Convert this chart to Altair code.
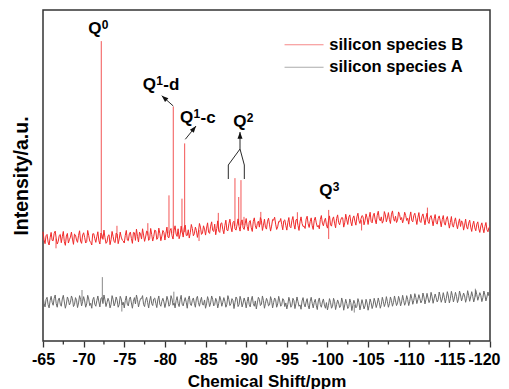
import altair as alt
import pandas as pd
import numpy as np

FONT = "Liberation Sans"

# sampling grids of the spectra (ppm): main points every 0.25 ppm, plus the points in between
ppm_grid = np.round(np.linspace(-65, -120, 221), 3)
ppm_mid = np.round(np.linspace(-65.125, -119.875, 220), 3)

red_baseline = [
    33.0, 29.4, 32.2, 29.0, 32.8, 30.3, 33.2, 29.3, 31.9, 29.7, 33.1, 28.9, 32.5, 30.6, 32.9, 29.2, 32.0, 29.8, 33.3, 29.5,
    32.7, 29.6, 33.4, 30.2, 29.0, 32.4, 29.8, 33.0, 29.3, 32.1, 33.5, 29.5, 31.8, 29.1, 33.1, 30.0, 32.6, 29.4, 32.9, 30.5,
    29.6, 33.4, 30.3, 32.9, 29.5, 32.7, 33.8, 29.9, 32.3, 33.9, 30.1, 33.2, 30.4, 34.0, 30.2, 33.5, 30.7, 34.1, 30.3, 33.4,
    30.5, 34.4, 31.2, 34.0, 30.8, 34.8, 31.6, 30.9, 34.7, 31.4, 35.0, 31.9, 31.1, 35.2, 31.8, 34.4, 31.3, 35.5, 32.2, 34.8,
    32.0, 35.7, 32.5, 36.0, 33.1, 32.1, 36.3, 32.8, 35.7, 32.4, 36.5, 33.3, 36.8, 33.0, 36.2, 33.5, 36.9, 33.2, 36.6, 33.7,
    37.0, 33.3, 36.4, 33.1, 37.2, 33.9, 36.2, 37.3, 33.4, 36.8, 33.8, 37.1, 33.2, 36.7, 37.4, 33.7, 36.1, 37.0, 33.6, 36.6,
    33.5, 37.3, 34.2, 37.6, 33.8, 36.8, 33.4, 37.5, 34.6, 34.0, 37.7, 34.3, 37.2, 33.7, 37.4, 34.5, 33.9, 37.9, 34.8, 37.1,
    34.1, 37.8, 34.7, 37.5, 34.2, 38.1, 35.1, 37.3, 34.4, 38.3, 35.2, 38.1, 34.8, 37.8, 35.0, 38.6, 35.5, 37.9, 35.1, 38.4,
    35.2, 38.9, 35.7, 38.6, 35.4, 39.2, 36.3, 35.6, 39.1, 36.0, 38.8, 35.5, 39.3, 36.2, 35.8, 39.0, 36.6, 35.7, 38.9, 36.4,
    35.3, 39.0, 36.0, 38.6, 35.2, 38.8, 35.8, 38.4, 35.1, 38.6, 35.5, 37.9, 34.8, 38.2, 35.3, 37.8, 34.5, 37.9, 35.0, 37.6,
    34.1, 37.6, 34.4, 37.2, 33.9, 36.9, 36.3, 33.5, 36.8, 33.8, 36.5, 33.1, 36.2, 33.3, 36.0, 32.8, 35.7, 32.7, 35.8, 33.0,
    34.6,
]
red_mid = [
    30.6, 31.8, 29.9, 31.2, 30.4, 32.5, 31.0, 30.1, 32.2, 31.5, 30.0, 31.7, 29.6, 31.4, 30.8, 32.3, 30.5, 31.9, 30.2, 32.0,
    31.3, 30.0, 31.9, 29.8, 32.4, 30.9, 31.5, 30.3, 32.6, 30.7, 31.2, 29.9, 32.1, 30.6, 31.6, 29.7, 32.3, 30.8, 31.4, 30.2,
    31.9, 30.5, 32.4, 31.0, 32.8, 30.4, 31.6, 32.9, 30.8, 32.0, 31.4, 33.0, 30.9, 32.2, 31.5, 33.3, 31.1, 32.5, 31.7, 32.8,
    32.6, 31.4, 33.3, 31.8, 33.5, 32.3, 33.9, 32.1, 33.0, 34.2, 31.9, 33.6, 32.7, 34.0, 32.4, 33.4, 32.9, 34.4, 32.6, 33.8,
    34.1, 32.9, 34.7, 33.4, 35.3, 34.0, 33.2, 35.5, 33.7, 34.9, 33.5, 35.4, 34.4, 35.8, 33.9, 35.1, 34.6, 36.0, 34.2, 35.4,
    34.6, 35.9, 34.2, 36.1, 34.8, 35.5, 34.4, 36.4, 35.0, 34.3, 36.2, 35.1, 34.7, 36.5, 35.3, 34.5, 36.0, 35.2, 36.3, 34.9,
    35.8, 34.6, 36.4, 35.2, 36.6, 34.9, 36.0, 35.5, 34.7, 36.8, 35.4, 36.1, 34.8, 36.5, 35.7, 34.9, 36.7, 35.6, 36.3, 35.1,
    36.3, 35.1, 36.8, 35.6, 37.0, 35.8, 36.5, 37.2, 35.7, 36.6, 37.4, 36.0, 37.1, 36.2, 37.5, 36.4, 36.9, 37.6, 36.3, 37.2,
    37.3, 36.1, 37.8, 36.6, 38.0, 36.9, 37.5, 36.3, 38.1, 37.2, 36.7, 38.3, 37.0, 37.7, 36.5, 38.2, 37.3, 36.8, 37.9, 37.1,
    37.5, 36.4, 37.9, 36.9, 37.3, 36.2, 37.6, 36.8, 37.2, 36.1, 37.4, 36.5, 36.9, 35.8, 37.0, 36.3, 36.7, 35.6, 36.8, 35.9,
    35.8, 34.9, 36.1, 35.3, 35.6, 34.6, 35.8, 35.0, 34.5, 35.6, 34.4, 35.1, 34.2, 35.3, 33.9, 34.8, 34.0, 34.6, 33.6, 34.3,
]

gray_baseline = [
    13.6, 10.3, 13.2, 10.0, 13.5, 10.8, 13.9, 10.2, 13.0, 10.5, 13.8, 9.9, 13.3, 10.9, 13.6, 10.4, 13.1, 10.1, 13.7, 10.6,
    13.4, 10.2, 13.8, 10.7, 9.9, 13.2, 10.5, 13.6, 10.3, 13.1, 13.9, 10.4, 12.9, 10.0, 13.7, 10.6, 13.3, 10.2, 13.5, 10.9,
    10.0, 13.6, 10.6, 13.3, 9.9, 13.1, 13.9, 10.3, 12.8, 13.7, 10.4, 13.2, 10.0, 13.5, 10.7, 13.0, 10.1, 13.6, 10.5, 12.9,
    10.1, 13.5, 10.5, 13.7, 10.8, 10.0, 13.4, 10.4, 13.8, 10.6, 13.1, 9.9, 13.6, 10.7, 13.0, 10.2, 13.5, 10.5, 13.2, 10.9,
    9.9, 13.4, 10.4, 13.6, 10.6, 12.9, 10.0, 13.5, 10.5, 13.1, 10.2, 13.7, 10.7, 12.8, 9.8, 13.3, 10.4, 13.5, 10.3, 13.0,
    10.0, 13.3, 10.3, 13.5, 10.5, 9.7, 13.2, 10.7, 13.6, 9.9, 12.9, 10.6, 13.4, 10.0, 13.0, 10.2, 13.5, 10.5, 12.8, 10.4,
    9.7, 13.2, 10.2, 12.9, 9.8, 13.3, 10.5, 9.6, 13.1, 10.3, 12.8, 9.7, 13.2, 10.0, 12.6, 9.5, 13.0, 10.2, 12.7, 9.9,
    9.4, 12.8, 9.9, 12.9, 9.5, 12.4, 10.1, 13.0, 9.3, 12.6, 9.8, 12.7, 9.2, 12.3, 10.0, 12.8, 9.4, 12.5, 9.7, 12.6,
    9.3, 12.7, 9.8, 12.9, 10.1, 13.0, 9.9, 13.2, 10.4, 13.4, 10.2, 13.3, 10.5, 13.6, 10.7, 13.5, 10.6, 13.8, 10.8, 13.7,
    10.7, 14.1, 11.1, 14.3, 11.3, 14.0, 11.5, 14.5, 11.2, 14.4, 11.6, 14.7, 11.4, 14.2, 11.8, 14.8, 11.7, 14.6, 11.5, 14.9,
    11.5, 15.0, 11.8, 14.7, 11.6, 15.1, 12.1, 14.5, 11.7, 15.2, 12.0, 14.9, 11.8, 15.3, 12.3, 14.6, 11.9, 15.1, 12.1, 14.8,
    13.3,
]
gray_mid = [
    11.4, 12.6, 11.0, 12.2, 11.7, 12.9, 11.3, 12.4, 11.1, 12.7, 11.8, 11.2, 12.5, 11.6, 12.8, 11.0, 12.3, 11.5, 12.6, 11.9,
    12.1, 11.2, 12.7, 11.4, 12.5, 11.1, 12.2, 11.8, 12.9, 11.3, 12.4, 11.6, 12.0, 11.1, 12.6, 11.5, 12.3, 11.0, 12.7, 11.7,
    12.2, 11.1, 12.6, 11.5, 12.0, 11.2, 12.5, 11.7, 12.8, 11.0, 12.3, 11.6, 12.1, 11.3, 12.7, 11.4, 12.4, 11.1, 12.0, 11.8,
    11.5, 12.4, 11.0, 12.7, 11.6, 12.2, 11.3, 12.5, 11.1, 12.0, 11.7, 12.6, 11.2, 12.3, 11.4, 12.8, 11.6, 12.1, 11.0, 12.4,
    11.2, 12.3, 11.5, 12.6, 11.0, 12.1, 11.4, 12.4, 11.7, 12.0, 11.1, 12.5, 11.3, 12.2, 11.6, 12.7, 11.0, 12.3, 11.5, 11.9,
    11.9, 11.0, 12.4, 11.3, 12.1, 11.5, 12.6, 11.1, 12.2, 11.4, 12.0, 10.9, 12.3, 11.6, 12.5, 11.2, 12.1, 11.0, 12.4, 11.5,
    11.1, 12.0, 10.8, 12.2, 11.3, 11.9, 10.9, 12.1, 11.2, 11.8, 10.7, 12.0, 11.4, 11.7, 10.8, 12.1, 11.0, 11.8, 10.9, 11.6,
    10.8, 11.7, 10.5, 11.9, 11.0, 11.5, 10.6, 11.8, 10.9, 11.3, 10.4, 11.6, 10.8, 11.4, 10.5, 11.7, 10.9, 11.2, 10.6, 11.5,
    10.7, 11.6, 10.9, 11.8, 11.2, 11.7, 11.0, 12.0, 11.4, 11.9, 11.3, 12.2, 11.6, 12.1, 11.5, 12.4, 11.8, 12.3, 11.7, 12.5,
    12.0, 12.9, 12.3, 13.1, 12.5, 12.8, 12.2, 13.3, 12.6, 13.0, 12.4, 13.4, 12.8, 13.1, 12.5, 13.5, 12.7, 13.2, 12.9, 13.6,
    12.8, 13.7, 13.0, 13.5, 12.7, 13.9, 13.2, 13.6, 12.9, 13.8, 13.3, 13.5, 13.0, 14.0, 13.4, 13.7, 13.1, 13.9, 13.3, 13.6,
]

# sharp resonances / spikes (ppm, top intensity, local baseline)
red_spike_ppm = [-72.17, -80.5, -81.03, -82.1, -82.43, -77.9, -86.57, -88.62, -89.08, -89.36, -89.73, -100.15,
                 -66.6, -74.1, -84.2, -91.8, -96.3, -104.2, -112.3]
red_spike_top = [90.6, 44.0, 70.8, 43.0, 59.7, 35.6, 38.7, 49.2, 43.5, 48.6, 37.5, 39.6,
                 28.0, 34.8, 30.2, 39.0, 38.9, 33.4, 40.3]
red_spike_base = [31.0, 32.5, 32.6, 32.8, 32.9, 31.9, 34.0, 34.8, 35.0, 35.0, 35.0, 30.8,
                  31.0, 31.2, 33.5, 35.2, 35.5, 36.5, 36.8]

gray_spike_ppm = [-72.3, -69.8, -81.1, -74.7, -103.3, -118.2]
gray_spike_top = [19.3, 15.4, 14.9, 8.9, 8.6, 15.8]
gray_spike_base = [11.9, 11.9, 11.8, 11.8, 10.9, 13.4]

series_names = ["silicon species B", "silicon species A"]
series_colors = ["#f02a2a", "#6a6a6a"]

x_ticks = [-65, -70, -75, -80, -85, -90, -95, -100, -105, -110, -115, -120]
x_minor = [-67.5, -72.5, -77.5, -82.5, -87.5, -92.5, -97.5, -102.5, -107.5, -112.5, -117.5]

# peak labels
ann_main = ["Q", "Q", "Q", "Q", "Q"]
ann_sup = ["0", "1", "1", "2", "3"]
ann_suffix = ["", "-d", "-c", "", ""]
ann_ppm = [-70.57, -77.27, -81.86, -88.42, -99.0]
ann_val = [92.75, 75.83, 65.86, 64.65, 43.8]

# arrows (tail -> tip)
arrow_tail_ppm = [-81.03, -82.51, -89.24]
arrow_tail_val = [71.0, 60.94, 58.0]
arrow_tip_ppm = [-79.61, -83.83, -89.24]
arrow_tip_val = [74.1, 64.95, 63.14]
arrow_angle = [312, 39, 0]

# bracket joining the Q2 lines
bracket_ppm = [-87.80, -87.80, -89.24, -89.77, -89.77]
bracket_val = [48.94, 53.17, 58.0, 53.17, 48.94]

df_lines = pd.DataFrame({
    "ppm": np.concatenate([ppm_grid, ppm_mid, ppm_grid, ppm_mid]),
    "intensity": red_baseline + red_mid + gray_baseline + gray_mid,
    "series": [series_names[0]] * (len(red_baseline) + len(red_mid))
    + [series_names[1]] * (len(gray_baseline) + len(gray_mid)),
})
df_red_spikes = pd.DataFrame({"ppm": red_spike_ppm, "top": red_spike_top, "base": red_spike_base})
df_gray_spikes = pd.DataFrame({"ppm": gray_spike_ppm, "top": gray_spike_top, "base": gray_spike_base})
df_ann = pd.DataFrame({"main": ann_main, "sup": ann_sup, "suffix": ann_suffix, "ppm": ann_ppm, "val": ann_val})
df_arrow = pd.DataFrame({"x1": arrow_tail_ppm, "y1": arrow_tail_val, "x2": arrow_tip_ppm,
                         "y2": arrow_tip_val, "angle": arrow_angle})
df_bracket = pd.DataFrame({"ppm": bracket_ppm, "val": bracket_val, "order": list(range(len(bracket_ppm)))})
df_minor = pd.DataFrame({"ppm": x_minor})

x_scale = alt.Scale(domain=[-120, -65], reverse=True, nice=False, zero=False)
y_scale = alt.Scale(domain=[0, 100], nice=False, zero=False)

x_axis = alt.Axis(
    values=x_ticks, title="Chemical Shift/ppm", labelExpr="'-' + abs(datum.value)",
    labelFont=FONT, labelFontWeight="bold", labelColor="black",
    labelFontSize=16, titleFontSize=17, tickSize=6, tickWidth=1.3, labelPadding=4,
    titlePadding=6, labelFlush=False, labelOverlap=False,
    labelOffset={"condition": {"test": "datum.value == -120", "value": -6}, "value": 0},
)
y_axis = alt.Axis(title="Intensity/a.u.", labels=False, ticks=False, titleFontSize=19.5, titlePadding=12)

lines = alt.Chart(df_lines).mark_line(strokeWidth=1.0).encode(
    x=alt.X("ppm:Q", scale=x_scale, axis=x_axis),
    y=alt.Y("intensity:Q", scale=y_scale, axis=y_axis),
    color=alt.Color(
        "series:N",
        scale=alt.Scale(domain=series_names, range=series_colors),
        legend=alt.Legend(
            title=None, orient="none", legendX=252.8, legendY=26.5, padding=0,
            symbolType="M-2.6,0L2.6,0", symbolSize=225, symbolStrokeWidth=1, symbolOpacity=0.55,
            labelFont=FONT, labelFontSize=16.5, labelFontWeight="bold", labelColor="black",
            labelOffset=17, rowPadding=5.5,
        ),
    ),
)

red_spikes = alt.Chart(df_red_spikes).mark_rule(strokeWidth=0.8, color=series_colors[0]).encode(
    x="ppm:Q", y="top:Q", y2="base:Q")
gray_spikes = alt.Chart(df_gray_spikes).mark_rule(strokeWidth=0.8, color=series_colors[1]).encode(
    x="ppm:Q", y="top:Q", y2="base:Q")

txt_common = dict(font=FONT, fontWeight="bold", color="black", align="left", baseline="alphabetic")
ann_q = alt.Chart(df_ann).mark_text(fontSize=17, **txt_common).encode(x="ppm:Q", y="val:Q", text="main:N")
ann_s = alt.Chart(df_ann).mark_text(fontSize=12, dx=13.5, dy=-5, **txt_common).encode(
    x="ppm:Q", y="val:Q", text="sup:N")
ann_x = alt.Chart(df_ann).mark_text(fontSize=17, dx=20.5, **txt_common).encode(
    x="ppm:Q", y="val:Q", text="suffix:N")

arrows = alt.Chart(df_arrow).mark_rule(strokeWidth=0.9, color="#111").encode(
    x="x1:Q", y="y1:Q", x2="x2:Q", y2="y2:Q")
heads = alt.Chart(df_arrow).mark_point(
    shape="M0,0L-0.6,1.6L0.6,1.6Z", filled=True, size=70, color="#111", opacity=1).encode(
    x="x2:Q", y="y2:Q", angle=alt.Angle("angle:Q", scale=None))
bracket = alt.Chart(df_bracket).mark_line(strokeWidth=0.9, color="#111").encode(
    x="ppm:Q", y="val:Q", order="order:Q")

minor = alt.Chart(df_minor).mark_rule(strokeWidth=1.3, color="#333").encode(
    x="ppm:Q", y=alt.value(331), y2=alt.value(334.5))

chart = alt.layer(
    lines, red_spikes, gray_spikes, bracket, arrows, heads, ann_q, ann_s, ann_x, minor
).properties(
    width=447, height=331, autosize="none",
    padding={"left": 35, "top": 2, "right": 11, "bottom": 48},
).configure_axis(
    labelFont=FONT, titleFont=FONT, labelFontWeight="bold", titleFontWeight="bold",
    labelColor="black", titleColor="black", tickColor="#333", domain=False, grid=False,
).configure_view(stroke="#333", strokeWidth=1.5)

chart.save("out.html", embed_options={"renderer": "svg", "actions": False})
